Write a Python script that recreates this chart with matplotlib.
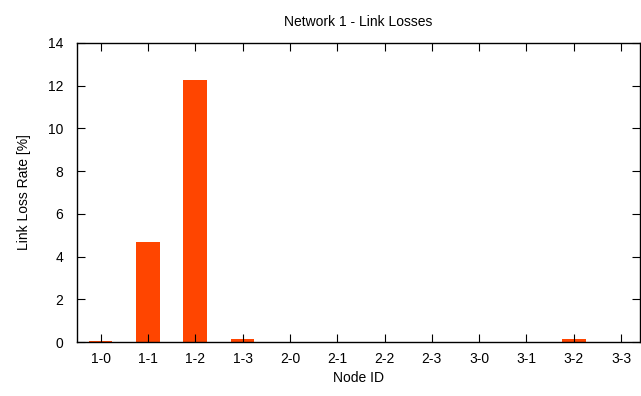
import matplotlib.pyplot as plt
import numpy as np

plt.rcParams["font.family"] = ["Liberation Sans", "DejaVu Sans"]
plt.rcParams["font.size"] = 10

nodes = ["1-0", "1-1", "1-2", "1-3", "2-0", "2-1", "2-2", "2-3", "3-0", "3-1", "3-2", "3-3"]
loss = [0.03, 4.68, 12.25, 0.13, 0.02, 0.02, 0.02, 0.02, 0.02, 0.02, 0.13, 0.02]

fig = plt.figure(figsize=(6.41, 3.96), dpi=100)
ax = fig.add_axes([77/641, 1-342/396, (640-77)/641, (342-43)/396])

x = np.arange(len(nodes))
ax.bar(x, loss, width=0.5, color="#ff4500")

ax.set_xlim(-0.5, 11.4)
ax.set_ylim(0, 14)
ax.set_xticks(x)
ax.set_xticklabels(nodes)
ax.set_yticks(np.arange(0, 15, 2))
ax.tick_params(direction="in", top=True, right=True, length=6, width=0.8, pad=7)
ax.tick_params(axis="y", pad=10)
for s in ax.spines.values():
    s.set_linewidth(1.0)

ax.set_title("Network 1 - Link Losses", fontsize=10, pad=12)
ax.set_xlabel("Node ID", labelpad=4)
ax.set_ylabel("Link Loss Rate [%]", labelpad=12)

fig.savefig("out.png", dpi=100)
